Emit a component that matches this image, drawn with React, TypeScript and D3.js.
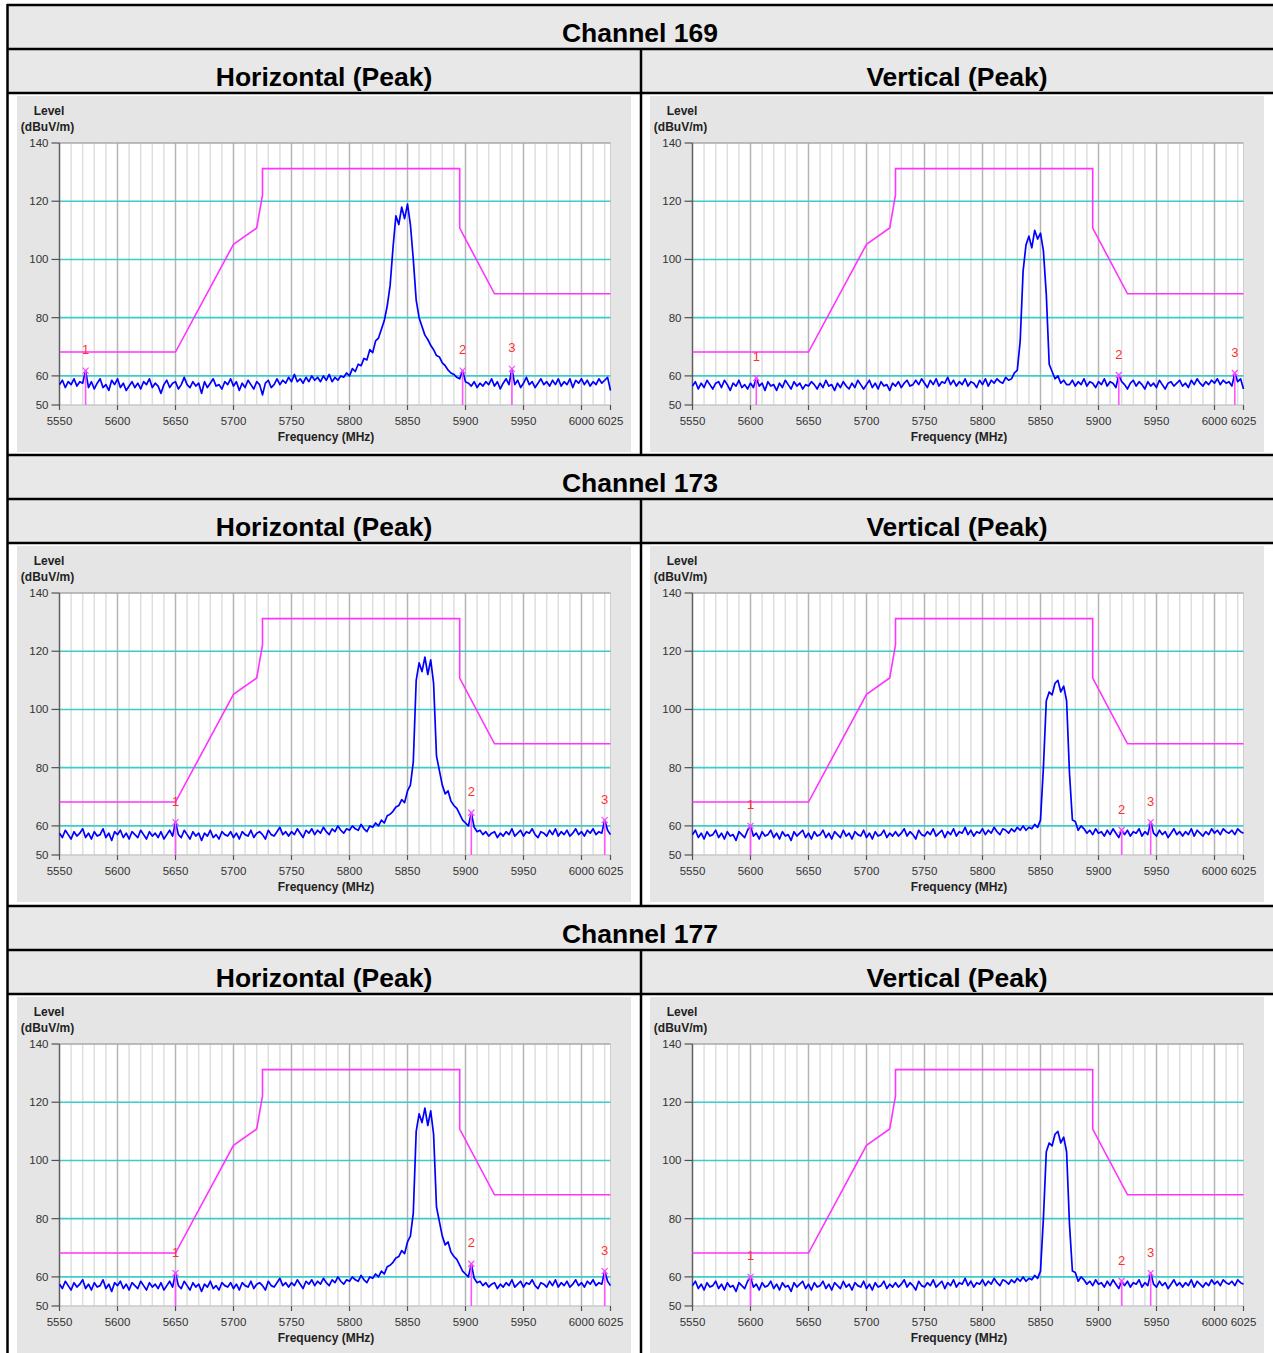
import React from "react";
import * as d3 from "d3";

// ---------- data ----------
const FREQ_START = 5550;
const FREQ_END = 6025;
const FREQ_STEP = 2.5;

const channelTitles = ["Channel 169", "Channel 173", "Channel 177"];
const polarizationTitles = ["Horizontal (Peak)", "Vertical (Peak)"];

const yTickValues = [50, 60, 80, 100, 120, 140];
const cyanLevels = [60, 80, 100, 120];
const xTickLabels = [5550, 5600, 5650, 5700, 5750, 5800, 5850, 5900, 5950, 6000, 6025];

const limitFreq = [5550, 5650, 5700, 5720, 5725, 5725, 5895, 5895, 5925, 6025];
const limitLevel = [68.2, 68.2, 105.2, 110.8, 122.2, 131.2, 131.2, 110.8, 88.2, 88.2];

// traces sampled every 2.5 MHz from 5550 to 6025 (dBuV/m)
const traceH169 = [
  57, 58.5, 56, 58, 57, 59, 56.5, 58, 57.5, 61.8,
  56, 58, 55.5, 57.5, 59, 56, 57, 55, 58.5, 57,
  59, 56, 57.5, 55, 56.5, 58, 56, 57.5, 55.5, 58,
  57, 59, 56, 57.5, 56.5, 54, 57, 58.5, 56, 57.5,
  58, 55.5, 57, 59.5, 57, 56, 58, 56.5, 57.5, 54,
  58, 56, 57.5, 59, 56.5, 57, 55.5, 58, 57, 59,
  56.5, 58, 55, 57.5, 56, 58.5, 57, 55.5, 58, 57,
  53.5, 57.5, 58.5, 56, 57, 59, 57, 58.5, 57.5, 59.5,
  58, 60.5, 58, 59, 57.5, 59.5, 58, 60, 58.5, 59.5,
  58, 60, 58.5, 60.5, 58, 59.5, 58.5, 60, 59.5, 61,
  60, 62.5, 61.5, 64, 63.5, 66, 65.5, 69, 68, 72,
  73, 76, 79, 84, 91, 104, 115, 112, 118, 114,
  119, 112, 100, 86, 80, 77, 74, 72.5, 70.5, 69,
  67, 66.5, 64.5, 63.5, 62, 61, 60.5, 59.5, 59, 61.8,
  58, 57.5, 56.5, 58, 56, 57.5, 56.5, 58, 57, 59,
  56.5, 58, 55.5, 57.5, 59, 57, 62.4, 57, 58.5, 56,
  57.5, 59.5, 57, 58, 56, 57.5, 59, 57, 58, 56.5,
  58.5, 57, 59, 56.5, 58, 57, 59, 56, 58.5, 57.5,
  59, 57, 58.5, 56.5, 58, 57, 59, 57.5, 58.5, 59.5,
  55,
];

const traceV169 = [
  56.5, 58, 55.5, 57.5, 56, 58.5, 57, 55.5, 57.5, 58,
  56, 58.5, 57, 55, 57.5, 56.5, 58.5, 56, 57, 55.5,
  57.5, 56, 59.3, 56.5, 57.5, 55, 58, 56.5, 57, 55,
  57.5, 56, 58.5, 57, 55.5, 58, 56.5, 57.5, 55.5, 57,
  56.5, 58, 57, 55.5, 57.5, 56, 58.5, 56.5, 57, 55,
  57.5, 56, 58, 56.5, 55.5, 57.5, 56, 58.5, 57, 55.5,
  57, 58.5, 56, 57.5, 55.5, 58, 56.5, 57, 55, 57.5,
  56.5, 58, 56, 57.5, 58.5, 56.5, 57, 58.5, 57, 59,
  57.5, 56, 58.5, 57, 59, 56.5, 58, 57.5, 59.5, 57,
  58.5, 56.5, 58, 57, 59, 56.5, 58, 57.5, 56, 58.5,
  57, 59, 56.5, 58.5, 57.5, 59, 58, 57.5, 59.5, 58.5,
  59, 61, 62, 72, 96, 105, 108, 104, 110, 107,
  109, 103, 88, 64, 61.5, 59, 60, 57.5, 58.5, 57,
  57, 58.5, 56.5, 58, 57, 59, 56.5, 58, 57.5, 56,
  58, 57, 59, 56.5, 58, 57.5, 56, 60.3, 58, 57,
  55.5, 57.5, 58.5, 56.5, 58, 57, 55.5, 58, 56.5, 57.5,
  56, 58.5, 57, 55.5, 57.5, 58, 56.5, 57.5, 58.5, 56.5,
  57.5, 56, 58.5, 57, 59, 57.5, 56.5, 58, 57, 58.5,
  57.5, 59, 57, 58.5, 57.5, 58, 56.5, 61, 58, 59,
  55.5,
];

const traceH173 = [
  57.5, 56, 58.5, 57, 55.5, 58, 56.5, 57.5, 59, 56,
  57.5, 55.5, 58, 56.5, 57, 59, 56, 57.5, 55, 58,
  57, 58.5, 56, 57.5, 55.5, 58, 57, 56, 58.5, 57,
  55.5, 58, 56.5, 57.5, 56, 58, 55.5, 57, 58.5, 56.5,
  61.3, 57, 56, 58.5, 57, 55.5, 58, 56.5, 57.5, 55,
  57.5, 56.5, 58.5, 56, 57, 55.5, 58, 57, 56.5, 58,
  56, 57.5, 55.5, 58, 57, 56.5, 58.5, 56, 57.5, 58,
  57, 55.5, 58.5, 57, 56.5, 58, 59.5, 57, 58, 56.5,
  58, 57, 59, 57.5, 56, 58.5, 57.5, 59, 57, 58.5,
  57.5, 59.5, 58, 57, 59, 58, 60, 58.5, 57.5, 59,
  58.5, 60, 59, 58.5, 60.5, 59, 58, 60, 59.5, 61,
  60, 62, 61, 63.5, 64, 65, 66.5, 67, 69, 68,
  72, 74, 82, 110, 116, 113, 118, 112, 117, 109,
  84, 79, 74, 71, 72, 68.5, 67, 66, 64, 62,
  61, 60, 64.5, 59.5, 58, 58.5, 57, 58, 56.5, 57.5,
  58, 56, 57.5, 56.5, 58, 57, 59, 56.5, 57.5, 58.5,
  56.5, 58, 57.5, 59, 57, 56, 58, 57.5, 56.5, 58.5,
  57, 59, 56.5, 58, 57, 58.5, 56.5, 57.5, 59, 57,
  58, 56.5, 58.5, 57.5, 59, 57, 58, 57.5, 62, 58.5,
  57,
];

const traceV173 = [
  57, 58.5, 56, 57.5, 55.5, 58, 56.5, 57, 58.5, 56,
  57.5, 55.5, 58, 56.5, 57, 55, 58, 57, 56, 58.5,
  60, 56.5, 57.5, 55.5, 58, 56.5, 57, 58.5, 56, 57.5,
  55.5, 58, 56.5, 57, 55, 58, 56.5, 57.5, 58.5, 56,
  57.5, 55.5, 58, 56.5, 57, 58.5, 56, 57.5, 55.5, 58,
  57, 56, 58.5, 56.5, 57.5, 55.5, 58, 57, 56.5, 58.5,
  56, 57.5, 55.5, 58, 56.5, 57, 58.5, 56, 57.5, 56.5,
  58, 56.5, 57.5, 59, 56.5, 58, 57, 55.5, 58.5, 57,
  56.5, 58, 57, 59, 56.5, 57.5, 58.5, 56, 58, 57,
  59, 56.5, 58, 57.5, 59.5, 57, 58.5, 56.5, 58, 57.5,
  59, 57, 58.5, 57.5, 59.5, 58, 57, 59, 58.5, 57.5,
  59, 58, 59.5, 58.5, 60, 58.5, 59.5, 59, 60.5, 59.5,
  62, 80, 103, 106, 105, 109, 110, 106, 108, 103,
  78, 62, 61.5, 58.5, 60, 59, 57.5, 58.5, 57, 59,
  57.5, 58, 56.5, 58.5, 57, 59, 57.5, 56, 58.6, 57,
  58.5, 56.5, 58, 57.5, 59, 56.5, 58, 57, 61.3, 57.5,
  56.5, 58.5, 57, 58, 56, 57.5, 59, 57, 58, 56.5,
  58, 57, 59, 56.5, 58.5, 57.5, 56.5, 58, 57, 59,
  57.5, 58.5, 57, 59, 58, 57.5, 58.5, 57, 59, 58,
  57.5,
];

// markers: label, frequency (MHz), level (dBuV/m)
const markerLabels = ["1", "2", "3"];
const markersH169Freq = [5572.5, 5897.5, 5940];
const markersH169Level = [61.8, 61.8, 62.4];
const markersV169Freq = [5605, 5917.5, 6017.5];
const markersV169Level = [59.3, 60.3, 61];
const markersH173Freq = [5650, 5905, 6020];
const markersH173Level = [61.3, 64.5, 62];
const markersV173Freq = [5600, 5920, 5945];
const markersV173Level = [60, 58.6, 61.3];

const panelTraces = [
  [traceH169, traceV169],
  [traceH173, traceV173],
  [traceH173, traceV173],
];
const panelMarkerFreq = [
  [markersH169Freq, markersV169Freq],
  [markersH173Freq, markersV173Freq],
  [markersH173Freq, markersV173Freq],
];
const panelMarkerLevel = [
  [markersH169Level, markersV169Level],
  [markersH173Level, markersV173Level],
  [markersH173Level, markersV173Level],
];

// ---------- layout ----------
const W = 1273;
const H = 1353;
const blockOffsets = [0, 450, 901];
const FONT = "'Liberation Sans', Arial, Helvetica, sans-serif";

const PANEL_W = 614;
const PANEL_H = 356;
const PL = 42.5;
const PR = 593.5;
const PT = 47;
const PB = 309;

const x = d3.scaleLinear().domain([FREQ_START, FREQ_END]).range([PL, PR]);
const y = d3.scaleLinear().domain([50, 140]).range([PB, PT]);

const minorFreqs = d3.range(5560, 6025, 10).filter((f) => f % 50 !== 0);
const majorFreqs = d3.range(5600, 6001, 50);

function ChartPanel({ ox, oy, trace, mFreq, mLevel }) {
  const pts = trace.map((v, i) => [FREQ_START + i * FREQ_STEP, v]);
  const line = d3
    .line()
    .x((d) => x(d[0]))
    .y((d) => y(d[1]));
  const limitPts = limitFreq.map((f, i) => [f, limitLevel[i]]);
  return (
    <g transform={`translate(${ox},${oy})`}>
      <rect x={0} y={0} width={PANEL_W} height={PANEL_H} fill="#e5e5e5" />
      <rect x={PL} y={PT} width={PR - PL} height={PB - PT} fill="#ffffff" />
      {minorFreqs.map((f) => (
        <line key={"mi" + f} x1={x(f)} x2={x(f)} y1={PT} y2={PB} stroke="#dedede" strokeWidth={1.5} />
      ))}
      {majorFreqs.map((f) => (
        <line key={"ma" + f} x1={x(f)} x2={x(f)} y1={PT} y2={PB} stroke="#b5b5b5" strokeWidth={1.5} />
      ))}
      <line x1={PR} x2={PR} y1={PT} y2={PB} stroke="#cfcfcf" strokeWidth={1} />
      {cyanLevels.map((v) => (
        <line key={"cy" + v} x1={PL} x2={PR} y1={y(v)} y2={y(v)} stroke="#3ccccc" strokeWidth={1.6} />
      ))}
      <line x1={PL} x2={PR} y1={PT} y2={PT} stroke="#a8a8a8" strokeWidth={1.5} />
      <line x1={PL} x2={PR} y1={PB} y2={PB} stroke="#c8c8c8" strokeWidth={1.5} />
      <line x1={PL} x2={PL} y1={PT} y2={PB} stroke="#606060" strokeWidth={1.5} />
      {yTickValues.map((v) => (
        <g key={"yt" + v}>
          <line x1={PL - 8} x2={PL} y1={y(v)} y2={y(v)} stroke="#505050" strokeWidth={1.2} />
          <text x={PL - 11} y={y(v)} dy="0.35em" textAnchor="end" fontSize={11.5} fill="#333" fontFamily={FONT}>
            {v}
          </text>
        </g>
      ))}
      {xTickLabels.map((f) => (
        <g key={"xt" + f}>
          <line x1={x(f)} x2={x(f)} y1={PB} y2={PB + 5} stroke="#505050" strokeWidth={1.2} />
          <text x={x(f)} y={PB + 16} dy="0.35em" textAnchor="middle" fontSize={11.5} fill="#333" fontFamily={FONT}>
            {f}
          </text>
        </g>
      ))}
      <text x={32} y={15} dy="0.35em" textAnchor="middle" fontSize={12} fontWeight="bold" fill="#222" fontFamily={FONT}>
        Level
      </text>
      <text x={30.5} y={31} dy="0.35em" textAnchor="middle" fontSize={12} fontWeight="bold" fill="#222" fontFamily={FONT}>
        (dBuV/m)
      </text>
      <text x={309} y={341} dy="0.35em" textAnchor="middle" fontSize={12} fontWeight="bold" fill="#222" fontFamily={FONT}>
        Frequency (MHz)
      </text>
      <path d={line(limitPts)} fill="none" stroke="#ff33ff" strokeWidth={1.6} />
      <path d={line(pts)} fill="none" stroke="#0000ff" strokeWidth={1.7} strokeLinejoin="round" />
      {mFreq.map((f, i) => {
        const mx = x(f);
        const my = y(mLevel[i]);
        return (
          <g key={"mk" + i}>
            <line x1={mx} x2={mx} y1={my} y2={PB} stroke="#ff55ff" strokeWidth={1.6} />
            <line x1={mx - 3} x2={mx + 3} y1={my - 3} y2={my + 3} stroke="#ff44ff" strokeWidth={1.2} />
            <line x1={mx - 3} x2={mx + 3} y1={my + 3} y2={my - 3} stroke="#ff44ff" strokeWidth={1.2} />
            <text x={mx} y={my - 21} dy="0.35em" textAnchor="middle" fontSize={13} fill="#ff3030" fontFamily={FONT}>
              {markerLabels[i]}
            </text>
          </g>
        );
      })}
    </g>
  );
}

export default function App() {
  return (
    <div style={{ position: "absolute", left: 0, top: 0 }}>
      <svg width={W} height={H} style={{ display: "block", background: "#ffffff" }}>
        {blockOffsets.map((o, b) => (
          <g key={"blk" + b}>
            <rect x={7} y={5 + o} width={W - 7} height={88} fill="#e8e8e8" />
            <text x={640} y={33 + o} dy="0.35em" textAnchor="middle" fontSize={26.5} fontWeight="bold" fill="#000" fontFamily={FONT}>
              {channelTitles[b]}
            </text>
            <text x={324} y={77 + o} dy="0.35em" textAnchor="middle" fontSize={26.5} fontWeight="bold" fill="#000" fontFamily={FONT}>
              {polarizationTitles[0]}
            </text>
            <text x={957} y={77 + o} dy="0.35em" textAnchor="middle" fontSize={26.5} fontWeight="bold" fill="#000" fontFamily={FONT}>
              {polarizationTitles[1]}
            </text>
            {[0, 1].map((p) => (
              <ChartPanel
                key={"p" + p}
                ox={p === 0 ? 17 : 650}
                oy={96 + o}
                trace={panelTraces[b][p]}
                mFreq={panelMarkerFreq[b][p]}
                mLevel={panelMarkerLevel[b][p]}
              />
            ))}
            <line x1={7} x2={W} y1={5 + o} y2={5 + o} stroke="#000" strokeWidth={2.5} />
            <line x1={7} x2={W} y1={49 + o} y2={49 + o} stroke="#000" strokeWidth={2.5} />
            <line x1={7} x2={W} y1={93 + o} y2={93 + o} stroke="#000" strokeWidth={2.5} />
            <line x1={641} x2={641} y1={49 + o} y2={b < 2 ? blockOffsets[b + 1] + 5 : H} stroke="#000" strokeWidth={2.5} />
          </g>
        ))}
        <line x1={7.5} x2={7.5} y1={4} y2={H} stroke="#000" strokeWidth={2.5} />
      </svg>
    </div>
  );
}
